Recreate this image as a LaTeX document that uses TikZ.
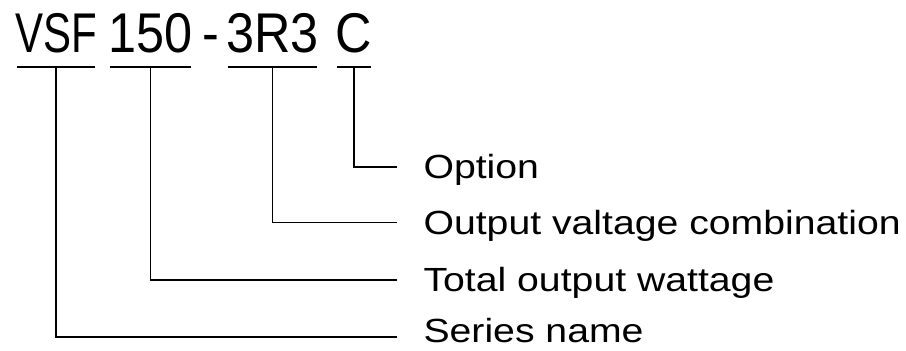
\documentclass[tikz,border=0pt]{standalone}
\usepackage{fontspec}
\newfontfamily\codefont[FakeStretch=0.9]{Liberation Sans}
\newfontfamily\vsffont[FakeStretch=0.75]{Liberation Sans}
\newfontfamily\lblfont[FakeStretch=1.17]{Liberation Sans}

\begin{document}
\begin{tikzpicture}[x=1pt,y=1pt,line width=1.1pt,
  code part/.style={font=\codefont\fontsize{56}{60}\selectfont,inner sep=0pt,text height=40pt,text depth=0pt},
  field name/.style={font=\lblfont\fontsize{33.5}{40}\selectfont,anchor=west,inner sep=0pt,text height=24pt,text depth=0pt},
  underline/.style={shorten <=2pt,shorten >=2pt},
  lead/.style={shorten >=26pt}]

  \useasboundingbox (0,0) rectangle (906,351);

  % part number, one node per field
  \node[code part,font=\vsffont\fontsize{56}{60}\selectfont] (vsf) at (56,318) {VSF};
  \node[code part] (watt) at (150.5,318) {150};
  \node[code part] (dash) at (211,318) {-};
  \node[code part] (volt) at (272.5,318) {3R3};
  \node[code part] (opt) at (354,318) {C};

  \foreach \n in {vsf,watt,volt,opt}
    \draw[underline] ([yshift=-13.5pt]\n.south west) -- ([yshift=-13.5pt]\n.south east);

  % field names
  \node[field name] (opt-l) at (423,184) {Option};
  \node[field name] (volt-l) at (423,128.5) {Output valtage combination};
  \node[field name] (watt-l) at (423,71) {Total output wattage};
  \node[field name] (vsf-l) at (423,20) {Series name};

  \draw[lead] ([yshift=-13.5pt]opt.south) |- (opt-l.west);
  \draw[lead] ([yshift=-13.5pt]volt.south) |- (volt-l.west);
  \draw[lead] ([yshift=-13.5pt]watt.south) |- (watt-l.west);
  \draw[lead] ([yshift=-13.5pt]vsf.south) |- ([yshift=-6pt]vsf-l.west);
\end{tikzpicture}
\end{document}
